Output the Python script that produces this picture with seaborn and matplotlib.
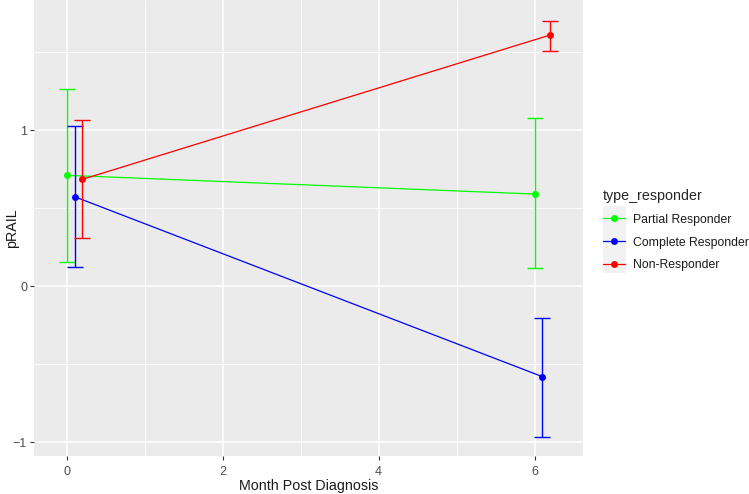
import numpy as np
import pandas as pd
import matplotlib
matplotlib.use("Agg")
import matplotlib.pyplot as plt
from matplotlib.patches import Rectangle
import seaborn as sns

groups = ["Partial Responder", "Complete Responder", "Non-Responder"]
months = [0, 6]
dodge = [0.0, 0.1, 0.2]
mean_vals = {
    "Partial Responder": [0.71, 0.59],
    "Complete Responder": [0.573, -0.58],
    "Non-Responder": [0.684, 1.609],
}
lower_vals = {
    "Partial Responder": [0.152, 0.115],
    "Complete Responder": [0.12, -0.964],
    "Non-Responder": [0.308, 1.506],
}
upper_vals = {
    "Partial Responder": [1.26, 1.075],
    "Complete Responder": [1.024, -0.203],
    "Non-Responder": [1.062, 1.699],
}
colors = {"Partial Responder": "#00FF00", "Complete Responder": "#0000FF", "Non-Responder": "#FF0000"}

rows = []
for g, d in zip(groups, dodge):
    for i, m in enumerate(months):
        rows.append({"x": m + d, "pRAIL": mean_vals[g][i], "lo": lower_vals[g][i],
                     "hi": upper_vals[g][i], "type_responder": g})
df = pd.DataFrame(rows)

sns.set_theme(style="darkgrid", rc={
    "axes.facecolor": "#EBEBEB", "grid.color": "white", "axes.edgecolor": "none",
})
plt.rcParams["font.family"] = ["Liberation Sans", "DejaVu Sans"]

W, H = 749, 494
fig = plt.figure(figsize=(W / 100, H / 100), dpi=100)
ax = fig.add_axes([34 / W, 1 - 456 / H, (583 - 34) / W, 456 / H])

sns.lineplot(data=df, x="x", y="pRAIL", hue="type_responder", hue_order=groups,
             palette=colors, marker="o", markersize=5, markeredgewidth=0,
             linewidth=0.9, ax=ax, legend=True)
for g in groups:
    sub = df[df["type_responder"] == g]
    ax.errorbar(sub["x"], sub["pRAIL"],
                yerr=[sub["pRAIL"] - sub["lo"], sub["hi"] - sub["pRAIL"]],
                fmt="none", ecolor=colors[g], elinewidth=1.0, capsize=5.6, capthick=1.0)

ax.set_xlim(-0.42, 6.62)
ax.set_ylim(-1.088, 1.833)
ax.set_xticks([0, 2, 4, 6])
ax.set_yticks([-1, 0, 1])
ax.set_xticks([1, 3, 5], minor=True)
ax.set_yticks([-0.5, 0.5, 1.5], minor=True)
ax.grid(which="major", color="white", linewidth=1.1)
ax.grid(which="minor", color="white", linewidth=0.55)
ax.tick_params(axis="both", which="major", labelsize=9, labelcolor="#4D4D4D",
               length=3, width=0.8, color="#333333", pad=2, bottom=True, left=True)
ax.tick_params(axis="x", which="major", pad=4)
ax.tick_params(which="minor", length=0)
ax.set_xlabel("Month Post Diagnosis", fontsize=10.3, color="#1A1A1A", labelpad=1)
ax.set_ylabel("pRAIL", fontsize=10.3, color="#1A1A1A")
ax.yaxis.set_label_coords((19 - 34) / (583 - 34), 0.5)

h, l = ax.get_legend_handles_labels()
ax.get_legend().remove()
leg = fig.legend(h, l, title="type_responder", loc="upper left",
                 bbox_to_anchor=(603 / W, 1 - 189 / H),
                 frameon=False, fontsize=8.8, title_fontsize=10.3, handlelength=1.8,
                 handletextpad=0.65, labelspacing=0.88, alignment="left", borderpad=0,
                 borderaxespad=0)
for t in leg.get_texts():
    t.set_color("#1A1A1A")
fig.patches.append(Rectangle((603 / W, 1 - 273 / H), 23 / W, 67 / H,
                             transform=fig.transFigure, facecolor="#F2F2F2",
                             edgecolor="none", zorder=0))

fig.savefig("out.png", dpi=100)
